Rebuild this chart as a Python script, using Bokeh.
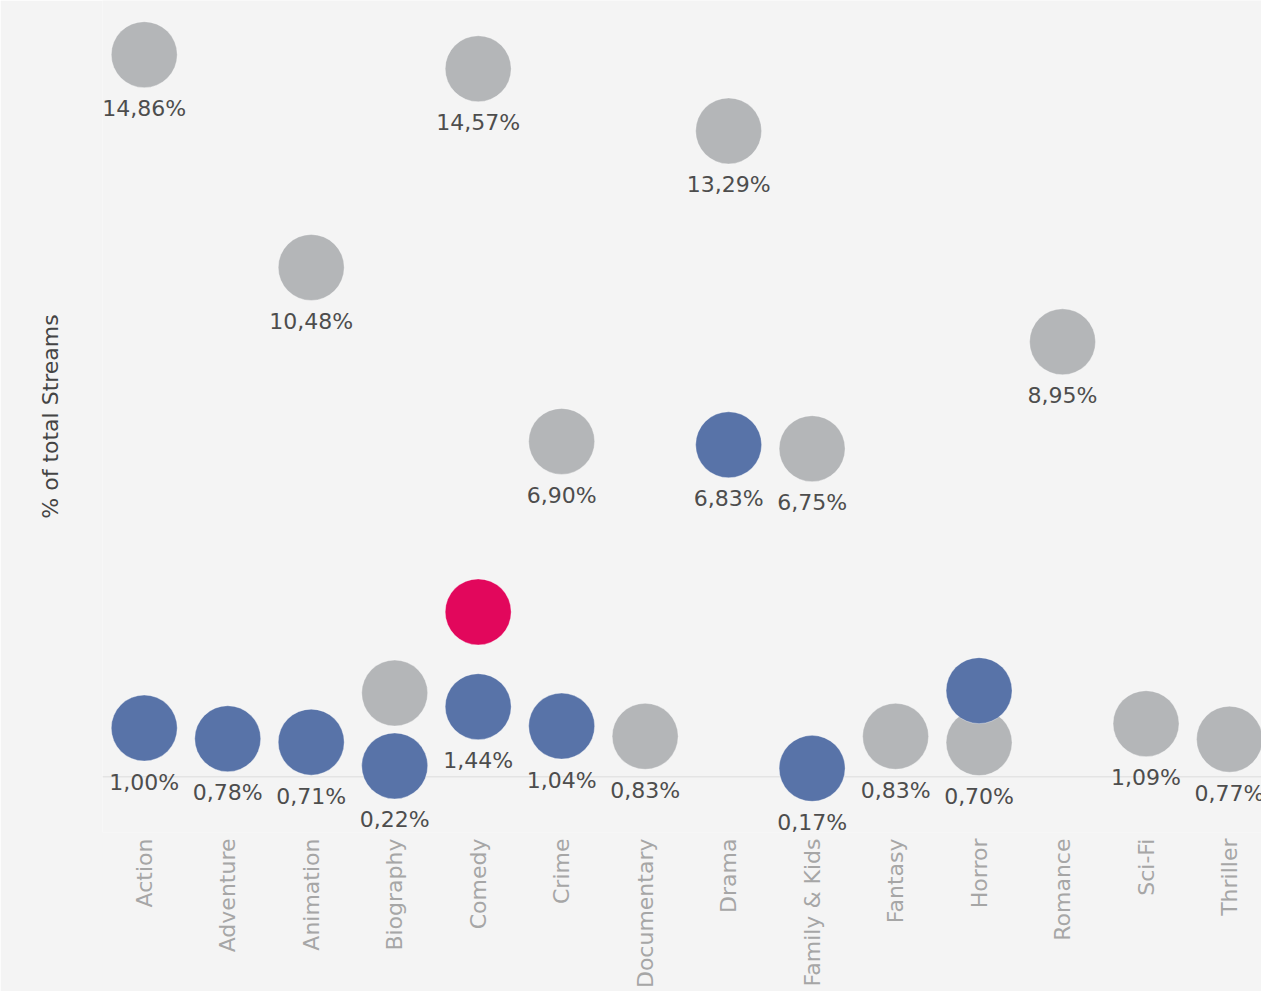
import math
from bokeh.plotting import figure
from bokeh.models import ColumnDataSource, Range1d, FixedTicker, Span
from bokeh.core.properties import value
from bokeh.embed import file_html
from bokeh.resources import INLINE

genres = ["Action", "Adventure", "Animation", "Biography", "Comedy", "Crime",
          "Documentary", "Drama", "Family & Kids", "Fantasy", "Horror",
          "Romance", "Sci-Fi", "Thriller"]

gray_vals = [14.86, None, 10.48, 1.72, 14.57, 6.90, 0.83, 13.29, 6.75, 0.83,
             0.70, 8.95, 1.09, 0.77]
gray_show = [True, False, True, False, True, True, True, True, True, True,
             True, True, True, True]

blue_vals = [1.00, 0.78, 0.71, 0.22, 1.44, 1.04, None, 6.83, 0.17, None,
             1.77, None, None, None]
blue_show = [True, True, True, True, True, True, False, True, True, False,
             False, False, False, False]

pink_vals = [None, None, None, None, 3.39, None, None, None, None, None,
             None, None, None, None]

GRAY = "#b4b6b8"
BLUE = "#5873a8"
PINK = "#e2075c"
BG = "#f4f4f4"
FONT = "DejaVu Sans"


def fmt(v):
    return ("%.2f%%" % v).replace(".", ",")


def build(vals, show):
    xs, ys, labels = [], [], []
    for i, v in enumerate(vals):
        if v is None:
            continue
        xs.append(i)
        ys.append(v)
        labels.append(fmt(v) if show[i] else "")
    return ColumnDataSource(dict(x=xs, y=ys, label=labels))


src_gray = build(gray_vals, gray_show)
src_blue = build(blue_vals, blue_show)
src_pink = build(pink_vals, [False] * len(genres))

p = figure(width=1261, height=991, output_backend="svg", toolbar_location=None,
           x_range=Range1d(-0.5, 13.383), y_range=Range1d(-1.15, 15.975),
           min_border_left=102, min_border_right=0, min_border_top=0,
           min_border_bottom=0)
p.background_fill_color = BG
p.border_fill_color = BG
p.outline_line_color = None
p.xgrid.visible = False
p.ygrid.visible = False

p.add_layout(Span(location=0, dimension="width", line_color="#e4e4e4",
                  line_width=1.5, level="underlay"))

for src, col in [(src_gray, GRAY), (src_blue, BLUE), (src_pink, PINK)]:
    p.scatter("x", "y", source=src, marker="circle", size=66,
              fill_color=col, line_color="white", line_alpha=0.35,
              line_width=1)

for src in [src_gray, src_blue]:
    p.text("x", "y", text="label", source=src, y_offset=54,
           text_align="center", text_baseline="middle",
           text_font=value(FONT), text_font_size="22px",
           text_color="#4d4d4d")

xa = p.xaxis[0]
xa.ticker = FixedTicker(ticks=list(range(len(genres))))
xa.major_label_overrides = {i: g for i, g in enumerate(genres)}
xa.major_label_orientation = math.pi / 2
xa.major_label_text_font = FONT
xa.major_label_text_font_size = "22px"
xa.major_label_text_color = "#a6a6a6"
xa.major_tick_line_color = None
xa.minor_tick_line_color = None
xa.major_tick_out = 0
xa.major_tick_in = 0
xa.minor_tick_out = 0
xa.axis_line_color = None
xa.major_label_standoff = 6

ya = p.yaxis[0]
ya.ticker = FixedTicker(ticks=[])
ya.major_tick_line_color = None
ya.minor_tick_line_color = None
ya.axis_line_color = None
ya.axis_label = "% of total Streams"
ya.axis_label_text_font = FONT
ya.axis_label_text_font_style = "normal"
ya.axis_label_text_font_size = "22px"
ya.axis_label_text_color = "#444444"
ya.axis_label_standoff = 40

open("out.html", "w").write(file_html(p, INLINE))
